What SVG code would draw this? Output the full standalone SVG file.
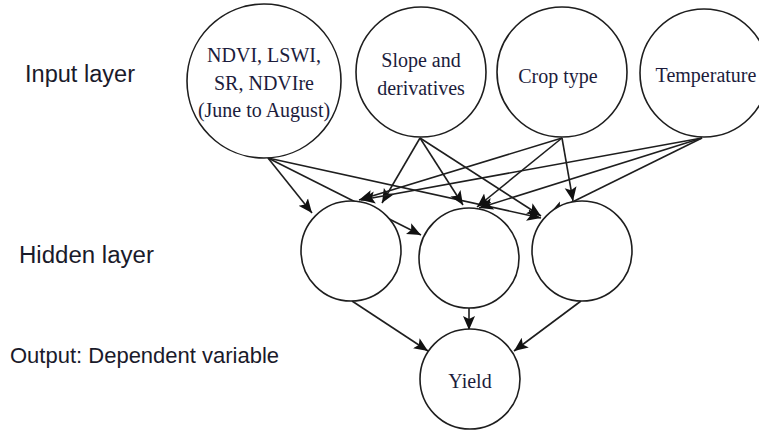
<svg xmlns="http://www.w3.org/2000/svg" width="759" height="430" viewBox="0 0 759 430">
  <style>
    .node { fill: #ffffff; stroke: #1e1e1e; stroke-width: 1.6; }
    .edge { stroke: #1e1e1e; stroke-width: 1.6; fill: none; marker-end: url(#arrow); }
    .layer { font-family: "Liberation Sans", Arial, sans-serif; font-size: 22px; fill: #1a1a2a; }
    .lbl { font-family: "Liberation Serif", "Times New Roman", serif; font-size: 20px; fill: #1c1c3c; text-anchor: middle; }
  </style>
  <defs>
    <marker id="arrow" markerUnits="userSpaceOnUse" markerWidth="16" markerHeight="14" refX="14" refY="7" orient="auto">
      <path d="M0,1 L14,7 L0,13 L3,7 Z" fill="#111111"/>
    </marker>
  </defs>

  <rect width="759" height="430" fill="#ffffff"/>

  <!-- layer captions -->
  <text class="layer" x="25" y="82" textLength="110" lengthAdjust="spacingAndGlyphs" style="font-size:23px">Input layer</text>
  <text class="layer" x="19" y="263" textLength="135" lengthAdjust="spacingAndGlyphs" style="font-size:23px">Hidden layer</text>
  <text class="layer" x="10" y="363">Output: Dependent variable</text>

  <!-- connectors -->
  <g id="connectors">
    <!-- inputs to hidden layer -->
    <line class="edge" x1="268" y1="158" x2="312" y2="213"/>
    <line class="edge" x1="268" y1="158" x2="421" y2="235"/>
    <line class="edge" x1="268" y1="158" x2="541" y2="218"/>
    <line class="edge" x1="420" y1="138" x2="382" y2="203"/>
    <line class="edge" x1="420" y1="138" x2="463" y2="205"/>
    <line class="edge" x1="420" y1="138" x2="541" y2="216"/>
    <line class="edge" x1="562" y1="138" x2="359" y2="200"/>
    <line class="edge" x1="562" y1="138" x2="477" y2="207"/>
    <line class="edge" x1="562" y1="138" x2="573" y2="201"/>
    <line class="edge" x1="702" y1="138" x2="361" y2="200"/>
    <line class="edge" x1="702" y1="138" x2="479" y2="208"/>
    <line class="edge" x1="702" y1="138" x2="550" y2="213"/>
    <!-- hidden layer to output -->
    <line class="edge" x1="352" y1="301" x2="428" y2="351"/>
    <line class="edge" x1="469" y1="308" x2="469" y2="330"/>
    <line class="edge" x1="581" y1="301" x2="514" y2="351"/>
  </g>

  <!-- input layer -->
  <g id="in-ndvi">
    <circle class="node" cx="264" cy="81" r="77"/>
    <text class="lbl" x="264" y="62">NDVI, LSWI,</text>
    <text class="lbl" x="264" y="90">SR, NDVIre</text>
    <text class="lbl" x="264" y="117">(June to August)</text>
  </g>
  <g id="in-slope">
    <circle class="node" cx="421" cy="72" r="65"/>
    <text class="lbl" x="421" y="67">Slope and</text>
    <text class="lbl" x="421" y="95">derivatives</text>
  </g>
  <g id="in-crop">
    <circle class="node" cx="562" cy="72" r="65"/>
    <text class="lbl" x="558" y="83">Crop type</text>
  </g>
  <g id="in-temp">
    <circle class="node" cx="704" cy="73" r="64"/>
    <text class="lbl" x="706" y="82">Temperature</text>
  </g>

  <!-- hidden layer -->
  <g id="hidden-1">
    <circle class="node" cx="351" cy="251" r="50"/>
  </g>
  <g id="hidden-2">
    <circle class="node" cx="469" cy="258" r="50"/>
  </g>
  <g id="hidden-3">
    <circle class="node" cx="582" cy="251" r="50"/>
  </g>

  <!-- output -->
  <g id="out-yield">
    <circle class="node" cx="470" cy="379" r="50"/>
    <text class="lbl" x="470" y="388">Yield</text>
  </g>
</svg>
